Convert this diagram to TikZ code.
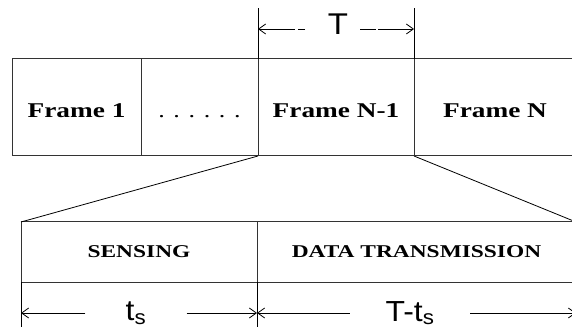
\documentclass[tikz,border=0pt]{standalone}
\usepackage{fontspec}
\setmainfont{Liberation Serif}
\setsansfont{Liberation Sans}
\usepackage{graphicx}
\usetikzlibrary{positioning,arrows.meta}

\newcommand{\wide}[2][1.3]{\scalebox{#1}[1]{#2}}

\tikzset{
  frame/.style={draw=black!80, line width=1pt, minimum height=97pt, inner sep=0pt, outer sep=0pt,
    text height=20pt, text depth=0pt, font=\fontsize{21}{25}\selectfont\bfseries},
  slot/.style={frame, minimum height=60pt, text height=, text depth=, font=\fontsize{18}{22}\selectfont\bfseries},
  dimlabel/.style={inner sep=0pt, font=\sffamily\fontsize{29}{33}\selectfont},
  dimline/.style={line width=0.8pt, -{Straight Barb[length=7pt,width=10pt]}},
  tick/.style={line width=0.8pt}
}

\begin{document}
\begin{tikzpicture}[x=1pt,y=-1pt]
\useasboundingbox (0,0) rectangle (572,336);
\clip (0,0) rectangle (572,336);
% frames
\node[frame, minimum width=129pt, anchor=north west] (f1) at (12,59) {\wide{Frame 1}};
\node[frame, minimum width=117pt, right=0pt of f1, font=\fontsize{20}{24}\selectfont] (fdots) {\wide{. . . . . .}};
\node[frame, minimum width=156pt, right=0pt of fdots] (fnm) {\wide{Frame N-1}};
\node[frame, minimum width=162pt, right=0pt of fnm] (fn) {\wide{Frame N}};
% frame N-1 opened up
\node[slot, minimum width=236pt, anchor=north west] (sense) at (21,222) {\wide{SENSING}};
\node[slot, minimum width=319pt, right=0pt of sense] (data) {\wide{DATA TRANSMISSION}};
\draw[tick] (fnm.south west) -- (sense.north west);
\draw[tick] (fnm.south east) -- (data.north east);
% frame length T
\draw[tick] (fnm.north west) -- ++(0,-51);
\draw[tick] (fnm.north east) -- ++(0,-51);
\node[dimlabel, font=\sffamily\fontsize{30}{34}\selectfont] (tlab) at (338,24) {\wide[1.1]{T}};
\coordinate (tl) at (305,29);
\coordinate (tr) at (360,29);
\draw[tick] (tl) -- ++(-7,0);
\draw[dimline] ([xshift=-10pt]tl) -- (tl -| fnm.west);
\draw[tick] (tr) -- ++(16,0);
\draw[dimline] ([xshift=18pt]tr) -- (tr -| fnm.east);
% sensing and transmission times
\draw[tick] (sense.south west) -- ++(0,45);
\draw[tick] (sense.south east) -- ++(0,45);
\node[dimlabel, minimum width=101pt] (ts) at (136,313) {\wide[1.1]{t\textsubscript{s}}};
\node[dimlabel, minimum width=120pt] (tts) at (410,313) {\wide[1.1]{T-t\textsubscript{s}}};
\draw[dimline] (ts.west) -- (ts.west -| sense.west);
\draw[dimline] (ts.east) -- (ts.east -| sense.east);
\draw[dimline] (tts.west) -- (tts.west -| data.west);
\draw[dimline] (tts.east) -- (tts.east -| data.east);
\end{tikzpicture}
\end{document}
